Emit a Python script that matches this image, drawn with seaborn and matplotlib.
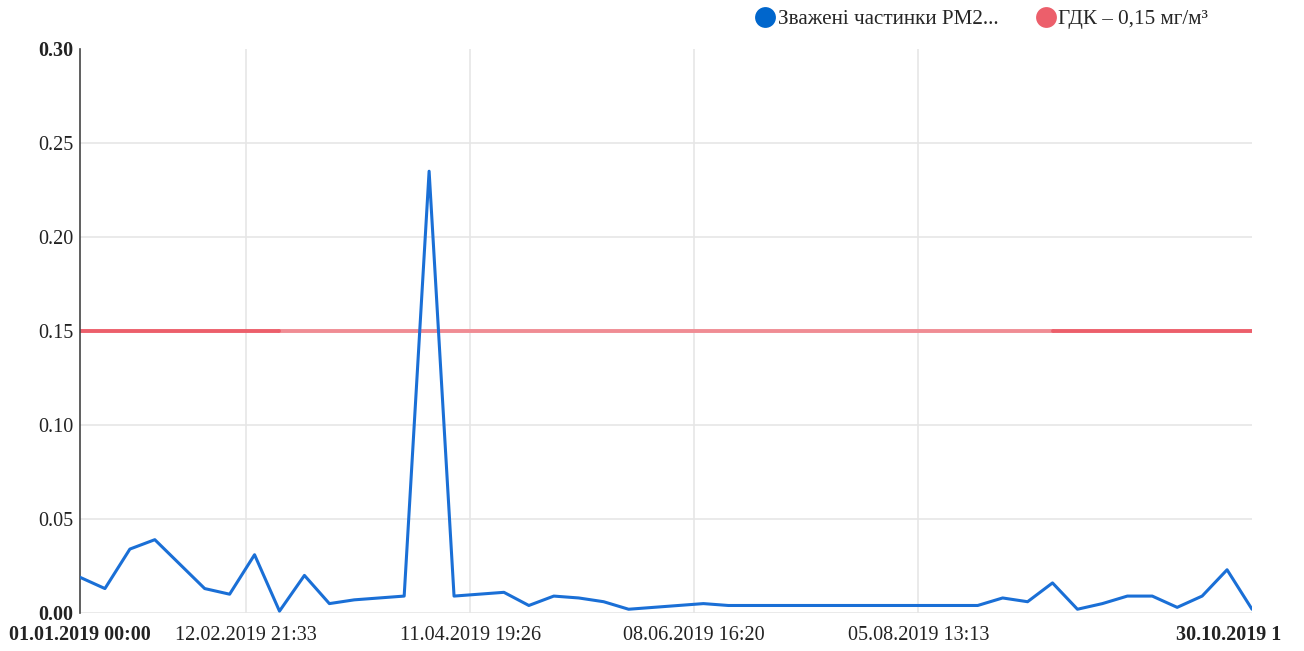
import pandas as pd
import numpy as np
import seaborn as sns
import matplotlib.pyplot as plt
import matplotlib.transforms as mtransforms
from matplotlib.lines import Line2D

# data
start = "2019-01-01 00:00"
end = "2019-10-30 18:29"
pm25 = [0.019, 0.013, 0.034, 0.039, 0.026, 0.013, 0.010, 0.031, 0.001, 0.020,
        0.005, 0.007, 0.008, 0.009, 0.235, 0.009, 0.010, 0.011, 0.004, 0.009,
        0.008, 0.006, 0.002, 0.003, 0.004, 0.005, 0.004, 0.004, 0.004, 0.004,
        0.004, 0.004, 0.004, 0.004, 0.004, 0.004, 0.004, 0.008, 0.006, 0.016,
        0.002, 0.005, 0.009, 0.009, 0.003, 0.009, 0.023, 0.002]
limit_value = 0.15
series_names = ["Зважені частинки PM2...", "ГДК – 0,15 мг/м³"]
tick_times = ["2019-01-01 00:00", "2019-02-12 21:33", "2019-04-11 19:26",
              "2019-06-08 16:20", "2019-08-05 13:13", end]
tick_labels = ["01.01.2019 00:00", "12.02.2019 21:33", "11.04.2019 19:26",
               "08.06.2019 16:20", "05.08.2019 13:13", "30.10.2019 1"]
y_ticks = [0.00, 0.05, 0.10, 0.15, 0.20, 0.25, 0.30]

blue = "#1a6fd6"
red_dark = "#ec5f6b"
red_light = "#f08c94"

df = pd.DataFrame({
    "time": pd.date_range(start, end, periods=len(pm25)),
    "pm25": pm25,
})
df["limit"] = limit_value

sns.set_style("white")
plt.rcParams["font.family"] = ["Liberation Serif", "DejaVu Serif"]

fig = plt.figure(figsize=(13.04, 6.51), dpi=100)
ax = fig.add_axes([80 / 1304, 1 - 613 / 651, 1172 / 1304, 564 / 651])

# limit line (renders darker at the ends in the original)
sns.lineplot(data=df.iloc[8:40], x="time", y="limit", color=red_light,
             linewidth=2.8, ax=ax, zorder=2)
sns.lineplot(data=df.iloc[:9], x="time", y="limit", color=red_dark,
             linewidth=2.8, ax=ax, zorder=2)
sns.lineplot(data=df.iloc[39:], x="time", y="limit", color=red_dark,
             linewidth=2.8, ax=ax, zorder=2)
sns.lineplot(data=df, x="time", y="pm25", color=blue, linewidth=2.2,
             ax=ax, zorder=3)

ax.set_xlim(pd.Timestamp(start), pd.Timestamp(end))
ax.set_ylim(0, 0.30)
ax.set_xlabel("")
ax.set_ylabel("")

ax.set_xticks(pd.to_datetime(tick_times))
ax.set_xticklabels(tick_labels)
ax.set_yticks(y_ticks)
ax.set_yticklabels([f"{v:.2f}" for v in y_ticks])
ax.tick_params(axis="both", length=0, labelsize=14.5, colors="#222222")
ax.tick_params(axis="x", pad=9)
ax.tick_params(axis="y", pad=5)
for lab in (ax.get_xticklabels()[0], ax.get_xticklabels()[-1],
            ax.get_yticklabels()[0], ax.get_yticklabels()[-1]):
    lab.set_fontweight("bold")
# last date label is pulled in from the right edge
last = ax.get_xticklabels()[-1]
last.set_transform(last.get_transform() +
                   mtransforms.ScaledTranslation(-0.23, 0, fig.dpi_scale_trans))

ax.grid(True, color="#e6e6e6", linewidth=1.2)
ax.set_axisbelow(True)
xg = ax.get_xgridlines()
xg[0].set_visible(False)
xg[-1].set_visible(False)
ax.get_ygridlines()[-1].set_visible(False)

for s in ["top", "right", "bottom"]:
    ax.spines[s].set_visible(False)
ax.spines["left"].set_color("#444444")
ax.spines["left"].set_linewidth(1.2)

handles = [Line2D([], [], linestyle="none", marker="o", markersize=15,
                  markerfacecolor="#0066cc", markeredgecolor="none"),
           Line2D([], [], linestyle="none", marker="o", markersize=15,
                  markerfacecolor="#ec5f6b", markeredgecolor="none")]
fig.legend(handles, series_names, loc="center left",
           bbox_to_anchor=(746 / 1304, 1 - 19 / 651), ncol=2, frameon=False,
           fontsize=15.2, handlelength=0.8, handletextpad=0.2,
           columnspacing=1.85, borderpad=0)

fig.savefig("out.png", dpi=100)
